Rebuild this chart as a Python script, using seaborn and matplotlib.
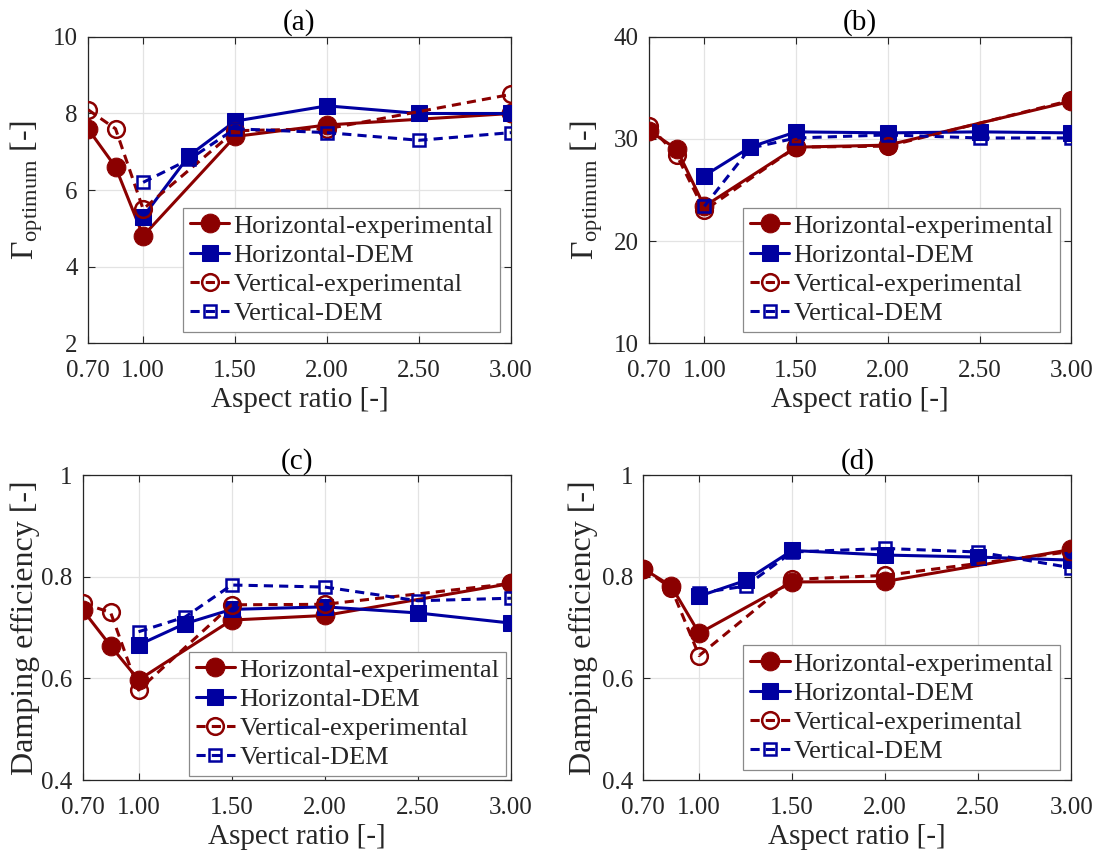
import matplotlib
matplotlib.use("Agg")
import matplotlib.pyplot as plt
import seaborn as sns
import pandas as pd

# Aspect ratios tested
x_exp = [0.70, 0.85, 1.00, 1.50, 2.00, 3.00]
x_dem = [1.00, 1.25, 1.50, 2.00, 2.50, 3.00]

# (a) optimum Gamma, first case
h_exp_a = [7.6, 6.6, 4.8, 7.4, 7.7, 8.0]
h_dem_a = [5.3, 6.9, 7.8, 8.2, 8.0, 8.0]
v_exp_a = [8.1, 7.6, 5.5, 7.55, 7.6, 8.5]
v_dem_a = [6.2, 6.8, 7.6, 7.5, 7.3, 7.5]

# (b) optimum Gamma, second case
h_exp_b = [30.8, 29.0, 23.4, 29.2, 29.4, 33.7]
h_dem_b = [26.4, 29.2, 30.7, 30.6, 30.7, 30.6]
v_exp_b = [31.3, 28.4, 23.0, 29.2, 29.3, 33.8]
v_dem_b = [23.4, 29.1, 30.1, 30.4, 30.1, 30.1]

# (c) damping efficiency, first case
h_exp_c = [0.735, 0.664, 0.597, 0.715, 0.724, 0.787]
h_dem_c = [0.666, 0.708, 0.736, 0.741, 0.729, 0.709]
v_exp_c = [0.748, 0.730, 0.577, 0.745, 0.746, 0.787]
v_dem_c = [0.692, 0.721, 0.784, 0.780, 0.753, 0.758]

# (d) damping efficiency, second case
h_exp_d = [0.816, 0.782, 0.689, 0.790, 0.791, 0.854]
h_dem_d = [0.762, 0.793, 0.852, 0.843, 0.839, 0.833]
v_exp_d = [0.816, 0.778, 0.645, 0.795, 0.803, 0.850]
v_dem_d = [0.768, 0.782, 0.849, 0.856, 0.849, 0.818]

series_names = ["Horizontal-experimental", "Horizontal-DEM",
                "Vertical-experimental", "Vertical-DEM"]
x_ticks = [0.70, 1.00, 1.50, 2.00, 2.50, 3.00]
x_tick_labels = ["0.70", "1.00", "1.50", "2.00", "2.50", "3.00"]
panel_titles = ["(a)", "(b)", "(c)", "(d)"]
gamma_label = "Γ$_{\\mathrm{optimum}}$ [-]"
eff_label = "Damping efficiency [-]"
x_label = "Aspect ratio [-]"

sns.set_style("ticks")
plt.rcParams["font.family"] = ["Liberation Serif", "DejaVu Serif"]
plt.rcParams["mathtext.fontset"] = "custom"
plt.rcParams["mathtext.rm"] = "Liberation Serif"
plt.rcParams["mathtext.it"] = "Liberation Serif:italic"
plt.rcParams["font.size"] = 18

RED = "#8b0000"
BLUE = "#0000a0"
AX_COL = "#262626"
LABEL_SIZE = 21
YLABEL_SIZE = 23

fig = plt.figure(figsize=(11.01, 8.58), dpi=100)

axes_boxes = [
    (0.0799, 0.6002, 0.3842, 0.3567),
    (0.5897, 0.6002, 0.3833, 0.3567),
    (0.0751, 0.0909, 0.3890, 0.3551),
    (0.5843, 0.0909, 0.3887, 0.3551),
]

panels = [
    (h_exp_a, h_dem_a, v_exp_a, v_dem_a, (2, 10), [2, 4, 6, 8, 10], ["2", "4", "6", "8", "10"], gamma_label, (0.974, 0.036), -0.102),
    (h_exp_b, h_dem_b, v_exp_b, v_dem_b, (10, 40), [10, 20, 30, 40], ["10", "20", "30", "40"], gamma_label, (0.973, 0.036), -0.105),
    (h_exp_c, h_dem_c, v_exp_c, v_dem_c, (0.4, 1.0), [0.4, 0.6, 0.8, 1.0], ["0.4", "0.6", "0.8", "1"], eff_label, (0.988, 0.013), -0.100),
    (h_exp_d, h_dem_d, v_exp_d, v_dem_d, (0.4, 1.0), [0.4, 0.6, 0.8, 1.0], ["0.4", "0.6", "0.8", "1"], eff_label, (0.974, 0.033), -0.107),
]

for box, title, (he, hd, ve, vd, ylim, yt, ytl, ylab, leg_anchor, ylab_x) in zip(axes_boxes, panel_titles, panels):
    ax = fig.add_axes(box)
    ax.grid(True, color="#e3e3e3", linewidth=0.9, zorder=0)
    ax.set_axisbelow(True)

    df_he = pd.DataFrame({"x": x_exp, "y": he})
    df_hd = pd.DataFrame({"x": x_dem, "y": hd})
    df_ve = pd.DataFrame({"x": x_exp, "y": ve})
    df_vd = pd.DataFrame({"x": x_dem, "y": vd})

    sns.lineplot(data=df_he, x="x", y="y", ax=ax, color=RED, linewidth=2.2,
                 marker="o", markersize=13.5, markerfacecolor=RED,
                 markeredgecolor=RED, label=series_names[0], zorder=3)
    sns.lineplot(data=df_hd, x="x", y="y", ax=ax, color=BLUE, linewidth=2.2,
                 marker="s", markersize=11, markerfacecolor=BLUE,
                 markeredgecolor=BLUE, label=series_names[1], zorder=3)
    sns.lineplot(data=df_ve, x="x", y="y", ax=ax, color=RED, linewidth=2.2,
                 linestyle=(0, (3, 2)), marker="o", markersize=12,
                 markerfacecolor="none", markeredgecolor=RED,
                 markeredgewidth=1.8, label=series_names[2], zorder=4)
    sns.lineplot(data=df_vd, x="x", y="y", ax=ax, color=BLUE, linewidth=2.2,
                 linestyle=(0, (3, 2)), marker="s", markersize=9,
                 markerfacecolor="none", markeredgecolor=BLUE,
                 markeredgewidth=1.8, label=series_names[3], zorder=4)

    ax.set_xlim(0.70, 3.00)
    ax.set_ylim(*ylim)
    ax.set_xticks(x_ticks)
    ax.set_xticklabels(x_tick_labels)
    ax.set_yticks(yt)
    ax.set_yticklabels(ytl)
    ax.set_xlabel(x_label, fontsize=LABEL_SIZE, color=AX_COL, labelpad=3)
    ax.set_ylabel(ylab, fontsize=YLABEL_SIZE, color=AX_COL)
    ax.yaxis.set_label_coords(ylab_x, 0.5)
    ax.set_title(title, fontsize=LABEL_SIZE, color="black", pad=5)
    ax.tick_params(direction="in", top=True, right=True, length=5,
                   width=0.8, colors=AX_COL, labelsize=18)
    ax.tick_params(axis="x", pad=12.5)
    ax.tick_params(axis="y", pad=7.5)
    for sp in ax.spines.values():
        sp.set_visible(True)
        sp.set_color(AX_COL)
        sp.set_linewidth(0.9)

    leg = ax.legend(loc="lower right", bbox_to_anchor=leg_anchor,
                    borderaxespad=0, fontsize=19, frameon=True, fancybox=False,
                    edgecolor="#8a8a8a", framealpha=1, handlelength=1.5,
                    handletextpad=0.15, labelspacing=0.22, borderpad=0.25,
                    numpoints=1)
    leg.get_frame().set_linewidth(0.9)
    leg.set_zorder(10)

fig.savefig("out.png", dpi=100)
